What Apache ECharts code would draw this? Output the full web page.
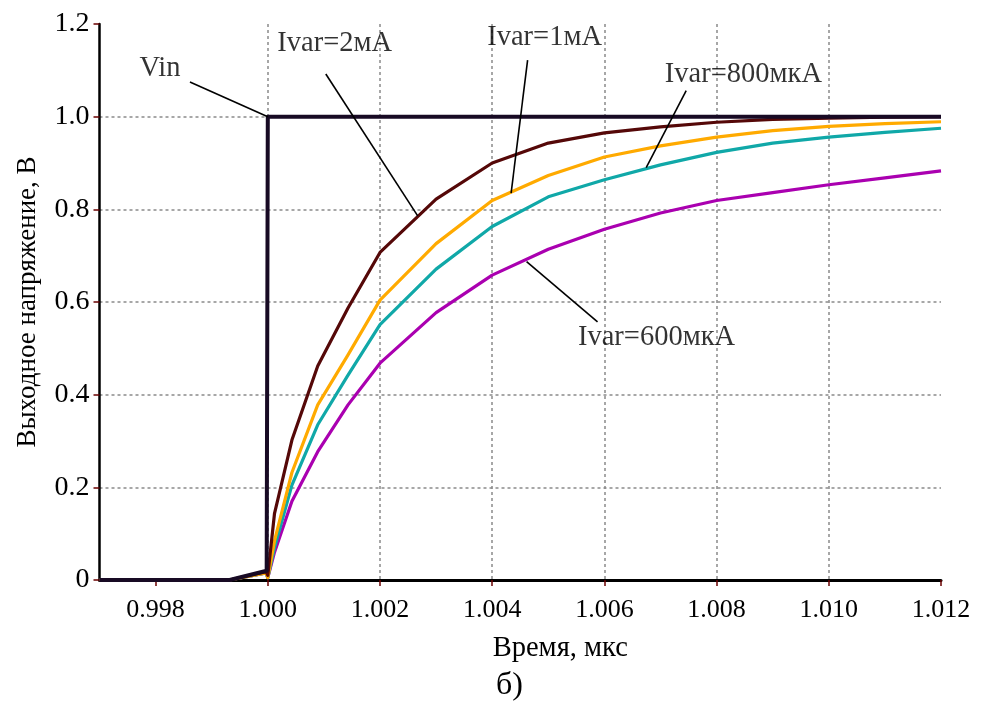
<!DOCTYPE html>
<html>
<head>
<meta charset="utf-8">
<script src="https://cdn.jsdelivr.net/npm/echarts@6/dist/echarts.min.js"></script>
<style>
  html, body { margin: 0; padding: 0; background: #fff; }
  #chart { width: 983px; height: 709px; }
</style>
</head>
<body>
<div id="chart"></div>
<script>
// Time axis (мкс)
const xTicks = [0.998, 1.000, 1.002, 1.004, 1.006, 1.008, 1.010, 1.012];
const yTicks = [0, 0.2, 0.4, 0.6, 0.8, 1.0, 1.2];

// Input step
const tVin = [0.997, 0.99932, 0.99998, 1.0, 1.012];
const vIn  = [0, 0, 0.02, 1.0, 1.0];

// Output transients, common time grid
const tOut = [0.997, 0.99932, 0.99997, 1.0, 1.00012, 1.00043, 1.00089, 1.00143,
              1.002, 1.003, 1.004, 1.005, 1.006, 1.007, 1.008, 1.009, 1.010, 1.011, 1.012];
const out2mA   = [0, 0, 0.018, 0.01, 0.144, 0.302, 0.462, 0.587, 0.707, 0.822, 0.900, 0.943, 0.965, 0.978, 0.988, 0.994, 0.997, 0.999, 1.0];
const out1mA   = [0, 0, 0.015, 0.005, 0.085, 0.232, 0.378, 0.486, 0.604, 0.726, 0.819, 0.873, 0.913, 0.937, 0.956, 0.970, 0.979, 0.985, 0.989];
const out800uA = [0, 0, 0.015, 0.005, 0.07, 0.205, 0.335, 0.442, 0.551, 0.671, 0.763, 0.827, 0.864, 0.896, 0.923, 0.943, 0.956, 0.966, 0.975];
const out600uA = [0, 0, 0.015, 0.005, 0.06, 0.17, 0.277, 0.378, 0.468, 0.577, 0.658, 0.714, 0.757, 0.792, 0.819, 0.836, 0.853, 0.868, 0.883];

// Callout labels: text, anchor of text, leader start, leader end (data coords)
const calloutText = ['Vin', 'Ivar=2мА', 'Ivar=1мА', 'Ivar=800мкА', 'Ivar=600мкА'];
const calloutAt   = [[0.998077, 1.105], [1.001194, 1.157], [1.004934, 1.170], [1.008478, 1.092], [1.006929, 0.524]];
const leaderFrom  = [[0.998612, 1.075], [1.001034, 1.092], [1.004631, 1.122], [1.007458, 1.056], [1.005878, 0.557]];
const leaderTo    = [[1.0, 1.0], [1.002672, 0.786], [1.004337, 0.835], [1.006745, 0.890], [1.004613, 0.687]];

const FONT = 'Liberation Serif';
const zip = (xs, ys) => xs.map((x, i) => [x, ys[i]]);

function curve(name, xs, ys, color, width, z) {
  return {
    name, type: 'line', data: zip(xs, ys), showSymbol: false, symbol: 'none',
    lineStyle: { color, width, join: 'round' }, z, silent: true
  };
}

const series = [
  curve('600мкА', tOut, out600uA, '#aa00b0', 3.2, 3),
  curve('800мкА', tOut, out800uA, '#10a8a8', 3.2, 4),
  curve('1мА', tOut, out1mA, '#ffaa00', 3.2, 5),
  curve('2мА', tOut, out2mA, '#550808', 3.2, 6),
  curve('Vin', tVin, vIn, '#180a24', 4, 7)
];

leaderFrom.forEach((p, i) => {
  series.push({
    type: 'line', data: [p, leaderTo[i]], showSymbol: false, symbol: 'none',
    lineStyle: { color: '#000', width: 1.6 }, z: 8, silent: true
  });
});

series.push({
  type: 'scatter', symbolSize: 0, z: 9, silent: true,
  data: calloutAt.map((p, i) => ({ value: p, name: calloutText[i] })),
  label: {
    show: true, position: 'inside', formatter: (p) => p.name,
    fontFamily: FONT, fontSize: 28.5, color: '#000'
  }
});

const chart = echarts.init(document.getElementById('chart'), null, { renderer: 'canvas' });
chart.setOption({
  animation: false,
  backgroundColor: '#fff',
  grid: { left: 99.5, right: 42, top: 24, bottom: 129, containLabel: false },
  xAxis: {
    type: 'value', min: 0.997, max: 1.012,
    name: 'Время, мкс', nameLocation: 'middle', nameGap: 54,
    nameTextStyle: { fontFamily: FONT, fontSize: 28.5, color: '#000', padding: [0, 0, 0, 80] },
    axisLine: { show: true, onZero: false, lineStyle: { color: '#000', width: 3 } },
    axisTick: { show: true, inside: false, length: 6, customValues: xTicks,
                lineStyle: { color: '#6a0000', width: 1.5 } },
    axisLabel: { customValues: xTicks, margin: 17, fontFamily: FONT, fontSize: 26, color: '#000',
                 formatter: (v) => v.toFixed(3) },
    splitLine: { show: true, showMinLine: false, showMaxLine: false,
                 lineStyle: { color: '#8a8a8a', width: 1.5, type: [3, 3] } }
  },
  yAxis: {
    type: 'value', min: 0, max: 1.2, interval: 0.2,
    name: 'Выходное напряжение, В', nameLocation: 'middle', nameGap: 58, nameRotate: 90,
    nameTextStyle: { fontFamily: FONT, fontSize: 27, color: '#000' },
    axisLine: { show: true, lineStyle: { color: '#000', width: 2.5 } },
    axisTick: { show: true, inside: false, length: 6,
                lineStyle: { color: '#6a0000', width: 1.5 } },
    axisLabel: { margin: 10, fontFamily: FONT, fontSize: 28, color: '#000',
                 formatter: (v) => (v === 0 ? '0' : v.toFixed(1)) },
    splitLine: { show: true, showMinLine: false, showMaxLine: false,
                 lineStyle: { color: '#8a8a8a', width: 1.5, type: [3, 3] } }
  },
  graphic: [{
    type: 'text', left: 496, top: 670,
    style: { text: 'б)', fontFamily: FONT, fontSize: 32, fill: '#000' }
  }],
  series
});
</script>
</body>
</html>
